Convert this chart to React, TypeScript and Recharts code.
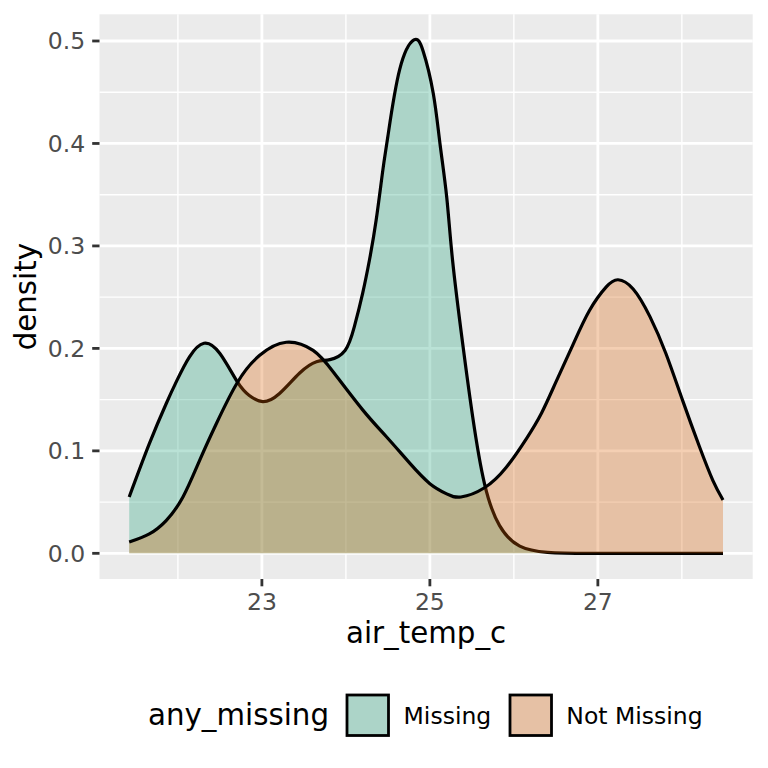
import React from "react";
import {
  ComposedChart,
  Area,
  XAxis,
  YAxis,
  CartesianGrid,
  Label,
} from "recharts";

// density curves (x = air_temp_c, y = density)
const missingX = [
  21.42, 21.66, 21.86, 21.99, 22.14, 22.31, 22.5, 22.71, 22.85, 23.01, 23.21,
  23.45, 23.65, 23.81, 23.99, 24.1, 24.2, 24.28, 24.36, 24.44, 24.5, 24.64,
  24.81, 24.92, 25.04, 25.12, 25.2, 25.27, 25.39, 25.51, 25.65,
  25.83, 26.07, 26.4, 26.9, 27.6, 28.49,
];
const missingY = [
  0.055, 0.107, 0.146, 0.169, 0.192, 0.205, 0.195, 0.167, 0.154, 0.148, 0.156,
  0.176, 0.187, 0.189, 0.198, 0.221, 0.254, 0.286, 0.325, 0.374, 0.407, 0.472,
  0.501, 0.49, 0.449, 0.4, 0.348, 0.286, 0.205, 0.133, 0.068,
  0.027, 0.007, 0.001, 0.0, 0.0, 0.0,
];

const notMissingX = [
  21.42, 21.66, 21.86, 22.06, 22.26, 22.46, 22.71, 22.97, 23.29, 23.61, 23.85,
  24.2, 24.48, 24.76, 25.0, 25.2, 25.37, 25.65, 25.91, 26.15, 26.33, 26.5,
  26.7, 26.9, 27.1, 27.24, 27.42, 27.62, 27.81, 28.01, 28.21, 28.37, 28.49,
];
const notMissingY = [
  0.011, 0.019, 0.032, 0.055, 0.091, 0.127, 0.167, 0.193, 0.206, 0.198, 0.177,
  0.14, 0.114, 0.088, 0.068, 0.058, 0.055, 0.064, 0.084, 0.112, 0.137, 0.167,
  0.203, 0.237, 0.26, 0.267, 0.258, 0.231, 0.195, 0.149, 0.104, 0.071, 0.052,
];

const xTicks = [23, 25, 27];
const xMinor = [22, 24, 26, 28];
const yTicks = [0, 0.1, 0.2, 0.3, 0.4, 0.5];
const yMinor = [0.05, 0.15, 0.25, 0.35, 0.45];

const groups = ["Missing", "Not Missing"];
const groupColors = ["#1b9e77", "#d95f02"];

const FONT = "DejaVu Sans";

const toRows = (xs: number[], ys: number[]) =>
  xs.map((x, i) => ({ x, y: ys[i] }));

const missingData = toRows(missingX, missingY);
const notMissingData = toRows(notMissingX, notMissingY);

// ggplot-style 5% expansion of the data range
const expand = (lo: number, hi: number) => {
  const pad = (hi - lo) * 0.05;
  return [lo - pad, hi + pad];
};
const allX = [...missingX, ...notMissingX];
const allY = [...missingY, ...notMissingY];
const xDomain = expand(Math.min(...allX), Math.max(...allX));
const yDomain = expand(Math.min(0, ...allY), Math.max(...allY));

const tickStyle = { fill: "#4D4D4D", fontSize: 23.5, fontFamily: FONT };
const tickLineStyle = { stroke: "#333333", strokeWidth: 2.8 };

function LegendBox() {
  const labelX = [403.6, 566.3];
  const boxX = [347, 510];
  return (
    <svg
      width={768}
      height={768}
      style={{ position: "absolute", left: 0, top: 0, pointerEvents: "none" }}
    >
      <text x={148} y={725} fontSize={29.3} fontFamily={FONT} fill="#000">
        any_missing
      </text>
      {groups.map((g, i) => (
        <g key={g}>
          <rect x={boxX[i]} y={695} width={41.5} height={40.5} fill="#EBEBEB" />
          <rect
            x={boxX[i]}
            y={695}
            width={41.5}
            height={40.5}
            fill={groupColors[i]}
            fillOpacity={0.3}
            stroke="#000"
            strokeWidth={2.8}
          />
          <text
            x={labelX[i]}
            y={724.3}
            fontSize={23.5}
            fontFamily={FONT}
            fill="#000"
          >
            {g}
          </text>
        </g>
      ))}
    </svg>
  );
}

export default function App() {
  return (
    <div
      style={{
        position: "absolute",
        left: 0,
        top: 0,
        width: 768,
        height: 768,
        background: "#fff",
        fontFamily: FONT,
      }}
    >
      <ComposedChart
        width={768}
        height={768}
        margin={{ top: 14.3, right: 15.3, left: 0, bottom: 119 }}
      >
        <CartesianGrid
          fill="#EBEBEB"
          stroke="#FFFFFF"
          strokeWidth={1.4}
          horizontalValues={yMinor}
          verticalValues={xMinor}
        />
        <CartesianGrid
          stroke="#FFFFFF"
          strokeWidth={2.8}
          horizontalValues={yTicks}
          verticalValues={xTicks}
        />
        <XAxis
          type="number"
          dataKey="x"
          domain={xDomain}
          allowDataOverflow
          ticks={xTicks}
          interval={0}
          height={70}
          axisLine={false}
          tickLine={tickLineStyle}
          tickSize={7.3}
          tickMargin={7}
          tick={tickStyle}
        >
          <Label
            content={({ viewBox }: any) => (
              <text
                x={viewBox.x + viewBox.width / 2}
                y={643}
                textAnchor="middle"
                fontSize={29.3}
                fontFamily={FONT}
                fill="#000"
              >
                air_temp_c
              </text>
            )}
          />
        </XAxis>
        <YAxis
          type="number"
          domain={yDomain}
          allowDataOverflow
          ticks={yTicks}
          interval={0}
          width={99.5}
          axisLine={false}
          tickLine={tickLineStyle}
          tickSize={7.3}
          tickMargin={7}
          tick={tickStyle}
          tickFormatter={(v: number) => v.toFixed(1)}
        >
          <Label
            content={({ viewBox }: any) => {
              const cy = viewBox.y + viewBox.height / 2;
              return (
                <text
                  x={36}
                  y={cy}
                  transform={`rotate(-90, 36, ${cy})`}
                  textAnchor="middle"
                  fontSize={29.3}
                  fontFamily={FONT}
                  fill="#000"
                >
                  density
                </text>
              );
            }}
          />
        </YAxis>
        <Area
          data={missingData}
          dataKey="y"
          type="natural"
          baseValue={0}
          fill={groupColors[0]}
          fillOpacity={0.3}
          stroke="#000"
          strokeWidth={3.2}
          isAnimationActive={false}
          dot={false}
          activeDot={false}
        />
        <Area
          data={notMissingData}
          dataKey="y"
          type="natural"
          baseValue={0}
          fill={groupColors[1]}
          fillOpacity={0.3}
          stroke="#000"
          strokeWidth={3.2}
          isAnimationActive={false}
          dot={false}
          activeDot={false}
        />
      </ComposedChart>
      <LegendBox />
    </div>
  );
}
